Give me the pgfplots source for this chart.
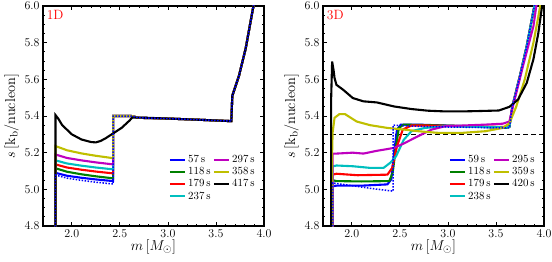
\documentclass[border=0pt]{standalone}
\usepackage{pgfplots}
\pgfplotsset{compat=1.18}
\definecolor{mblue}{rgb}{0,0,1}
\definecolor{mgreen}{rgb}{0,0.5,0}
\definecolor{mred}{rgb}{1,0,0}
\definecolor{mcyan}{rgb}{0,0.75,0.75}
\definecolor{mmag}{rgb}{0.75,0,0.75}
\definecolor{myel}{rgb}{0.75,0.75,0}
\pgfplotsset{
  myax/.style={scale only axis, width=221bp, height=220bp,
    xmin=1.7, xmax=4.0, ymin=4.8, ymax=6.0,
    xtick={2,2.5,3,3.5,4}, ytick={4.8,5,5.2,5.4,5.6,5.8,6},
    minor x tick num=4, minor y tick num=3,
    tick align=inside, major tick length=4bp, minor tick length=2bp,
    axis line style={line width=1.1bp}, every tick/.style={black, line width=0.8bp},
    tick label style={font=\fontsize{11.5}{13}\selectfont},
    xticklabel style={/pgf/number format/.cd, fixed, fixed zerofill, precision=1},
    yticklabel style={/pgf/number format/.cd, fixed, fixed zerofill, precision=1},
    label style={font=\fontsize{15}{17}\selectfont},
    xlabel={$m\,[M_\odot]$}, ylabel={$s\,[\mathrm{k_b/nucleon}]$},
    xlabel style={yshift=4bp}, ylabel style={yshift=-1bp},
    legend style={draw=none, fill=none, at={(rel axis cs:0.555,0.335)}, anchor=north west,
      legend columns=2, row sep=1.2bp, column sep=1bp,
      nodes={inner sep=1.2bp, font=\fontsize{10.5}{12}\selectfont}},
    legend cell align=left,
    legend image code/.code={\draw[#1] (0bp,0bp) -- (15bp,0bp);},
  },
  cl/.style={line width=2.1bp, forget plot},
}
\begin{document}
\begin{tikzpicture}[x=1bp,y=1bp]
\useasboundingbox (0,0) rectangle (552,261);
% ---------------- 1D ----------------
\begin{axis}[myax, at={(43bp,35bp)}, anchor=south west]
\addplot[cl, mblue] coordinates {(1.83,4.7)(1.83,5.09)(1.95,5.074)(2.1,5.063)(2.25,5.054)(2.43,5.045)(2.43,5.40)(2.62,5.40)(2.7,5.39)(3.0,5.386)(3.3,5.38)(3.66,5.372)(3.67,5.51)(3.74,5.62)(3.81,5.77)(3.89,6.0)(3.91,6.05)};
\addplot[cl, mgreen] coordinates {(1.83,4.7)(1.83,5.115)(1.95,5.096)(2.1,5.082)(2.25,5.071)(2.43,5.06)(2.43,5.40)(2.62,5.40)(2.7,5.39)(3.0,5.386)(3.3,5.38)(3.66,5.372)(3.67,5.51)(3.74,5.62)(3.81,5.77)(3.89,6.0)(3.91,6.05)};
\addplot[cl, mred] coordinates {(1.83,4.7)(1.83,5.136)(1.95,5.119)(2.1,5.107)(2.25,5.097)(2.43,5.087)(2.43,5.40)(2.62,5.40)(2.7,5.39)(3.0,5.386)(3.3,5.38)(3.66,5.372)(3.67,5.51)(3.74,5.62)(3.81,5.77)(3.89,6.0)(3.91,6.05)};
\addplot[cl, mcyan] coordinates {(1.83,4.7)(1.83,5.158)(1.95,5.141)(2.1,5.129)(2.25,5.119)(2.43,5.109)(2.43,5.40)(2.62,5.40)(2.7,5.39)(3.0,5.386)(3.3,5.38)(3.66,5.372)(3.67,5.51)(3.74,5.62)(3.81,5.77)(3.89,6.0)(3.91,6.05)};
\addplot[cl, mmag] coordinates {(1.83,4.7)(1.83,5.19)(1.95,5.171)(2.1,5.158)(2.25,5.147)(2.43,5.136)(2.43,5.40)(2.62,5.40)(2.7,5.39)(3.0,5.386)(3.3,5.38)(3.66,5.372)(3.67,5.51)(3.74,5.62)(3.81,5.77)(3.89,6.0)(3.91,6.05)};
\addplot[cl, myel] coordinates {(1.83,4.7)(1.83,5.236)(1.95,5.213)(2.1,5.196)(2.25,5.183)(2.43,5.170)(2.43,5.40)(2.62,5.40)(2.7,5.39)(3.0,5.386)(3.3,5.38)(3.66,5.372)(3.67,5.51)(3.74,5.62)(3.81,5.77)(3.89,6.0)(3.91,6.05)};
\addplot[cl, black] coordinates {(1.83,4.7)(1.83,5.405)(1.86,5.385)(1.9,5.35)(2.0,5.30)(2.1,5.272)(2.2,5.258)(2.25,5.256)(2.3,5.264)(2.35,5.278)(2.43,5.305)(2.52,5.336)(2.6,5.375)(2.63,5.392)(2.8,5.39)(3.0,5.386)(3.3,5.38)(3.66,5.372)(3.67,5.51)(3.74,5.62)(3.81,5.77)(3.89,6.0)(3.91,6.05)};
\addplot[mblue, line width=1.5bp, dash pattern=on 1.5bp off 1.5bp, forget plot] coordinates {(1.83,4.7)(1.83,5.078)(1.95,5.061)(2.1,5.049)(2.25,5.039)(2.43,5.029)(2.43,5.40)(2.62,5.40)(2.7,5.39)(3.0,5.386)(3.3,5.38)(3.66,5.372)(3.67,5.51)(3.74,5.62)(3.81,5.77)(3.89,6.0)(3.91,6.05)};
\addlegendimage{mblue, line width=2.1bp}
\addlegendimage{mmag, line width=2.1bp}
\addlegendimage{mgreen, line width=2.1bp}
\addlegendimage{myel, line width=2.1bp}
\addlegendimage{mred, line width=2.1bp}
\addlegendimage{black, line width=2.1bp}
\addlegendimage{mcyan, line width=2.1bp}
\legend{$57\,\mathrm{s}$,$297\,\mathrm{s}$,$118\,\mathrm{s}$,$358\,\mathrm{s}$,$179\,\mathrm{s}$,$417\,\mathrm{s}$,$237\,\mathrm{s}$}
\node[red, anchor=north west, inner sep=1.5bp, font=\fontsize{13.5}{15}\selectfont] at (rel axis cs:0.01,0.99) {1D};
\end{axis}
% ---------------- 3D ----------------
\begin{axis}[myax, at={(323bp,35bp)}, anchor=south west]
\addplot[black, dashed, line width=1.3bp, dash pattern=on 5bp off 3bp, forget plot] coordinates {(1.7,5.3)(4.0,5.3)};
\addplot[cl, mblue] coordinates {(1.80,4.7)(1.80,5.017)(1.84,5.02)(2.1,5.02)(2.37,5.027)(2.41,5.054)(2.44,5.2)(2.47,5.326)(2.51,5.353)(2.69,5.353)(3.15,5.345)(3.6,5.335)(3.64,5.345)(3.67,5.45)(3.75,5.62)(3.82,5.78)(3.90,6.0)(3.92,6.05)};
\addplot[cl, mgreen] coordinates {(1.80,4.7)(1.80,5.05)(1.84,5.045)(2.1,5.043)(2.39,5.045)(2.425,5.09)(2.46,5.235)(2.49,5.335)(2.54,5.353)(2.79,5.35)(3.2,5.345)(3.6,5.335)(3.64,5.34)(3.67,5.45)(3.75,5.62)(3.82,5.78)(3.90,6.0)(3.92,6.05)};
\addplot[cl, mred] coordinates {(1.80,4.7)(1.80,5.08)(1.84,5.085)(2.06,5.077)(2.37,5.08)(2.42,5.117)(2.47,5.235)(2.53,5.326)(2.62,5.348)(2.79,5.348)(3.32,5.343)(3.6,5.34)(3.64,5.342)(3.67,5.45)(3.75,5.62)(3.82,5.78)(3.90,6.0)(3.92,6.05)};
\addplot[cl, mcyan] coordinates {(1.80,4.7)(1.80,5.125)(1.84,5.13)(2.01,5.126)(2.19,5.117)(2.33,5.117)(2.40,5.145)(2.46,5.18)(2.54,5.27)(2.62,5.317)(2.76,5.335)(2.97,5.344)(3.32,5.34)(3.6,5.338)(3.64,5.34)(3.67,5.45)(3.75,5.62)(3.82,5.78)(3.90,6.0)(3.92,6.05)};
\addplot[cl, mmag] coordinates {(1.80,4.7)(1.80,5.195)(1.84,5.195)(2.01,5.2)(2.12,5.195)(2.26,5.21)(2.44,5.226)(2.54,5.25)(2.69,5.29)(2.83,5.326)(2.97,5.344)(3.15,5.348)(3.39,5.353)(3.57,5.358)(3.64,5.37)(3.675,5.45)(3.78,5.67)(3.89,5.89)(3.92,6.0)(3.94,6.05)};
\addplot[cl, myel] coordinates {(1.795,4.7)(1.795,5.2)(1.80,5.31)(1.82,5.39)(1.87,5.41)(1.93,5.41)(1.96,5.40)(2.05,5.37)(2.19,5.35)(2.37,5.335)(2.54,5.326)(2.69,5.317)(2.9,5.308)(3.15,5.308)(3.39,5.317)(3.57,5.335)(3.64,5.36)(3.71,5.45)(3.80,5.6)(3.89,5.8)(3.94,5.94)(3.96,6.0)(3.97,6.05)};
\addplot[cl, black] coordinates {(1.785,4.7)(1.785,5.5)(1.795,5.697)(1.81,5.65)(1.82,5.607)(1.84,5.57)(1.91,5.543)(2.01,5.498)(2.12,5.48)(2.26,5.474)(2.44,5.452)(2.62,5.438)(2.79,5.429)(2.97,5.425)(3.15,5.425)(3.32,5.427)(3.53,5.43)(3.64,5.45)(3.73,5.49)(3.82,5.58)(3.89,5.71)(3.94,5.85)(3.98,6.0)(3.99,6.05)};
\addplot[mblue, line width=1.5bp, dash pattern=on 1.5bp off 1.5bp, forget plot] coordinates {(1.80,4.7)(1.80,5.035)(2.0,5.02)(2.2,5.005)(2.43,4.99)(2.43,5.35)(2.6,5.345)(3.0,5.34)(3.64,5.335)(3.67,5.45)(3.75,5.62)(3.82,5.78)(3.90,6.0)(3.92,6.05)};
\addlegendimage{mblue, line width=2.1bp}
\addlegendimage{mmag, line width=2.1bp}
\addlegendimage{mgreen, line width=2.1bp}
\addlegendimage{myel, line width=2.1bp}
\addlegendimage{mred, line width=2.1bp}
\addlegendimage{black, line width=2.1bp}
\addlegendimage{mcyan, line width=2.1bp}
\legend{$59\,\mathrm{s}$,$295\,\mathrm{s}$,$118\,\mathrm{s}$,$359\,\mathrm{s}$,$179\,\mathrm{s}$,$420\,\mathrm{s}$,$238\,\mathrm{s}$}
\node[red, anchor=north west, inner sep=1.5bp, font=\fontsize{13.5}{15}\selectfont] at (rel axis cs:0.01,0.99) {3D};
\end{axis}
\end{tikzpicture}
\end{document}
